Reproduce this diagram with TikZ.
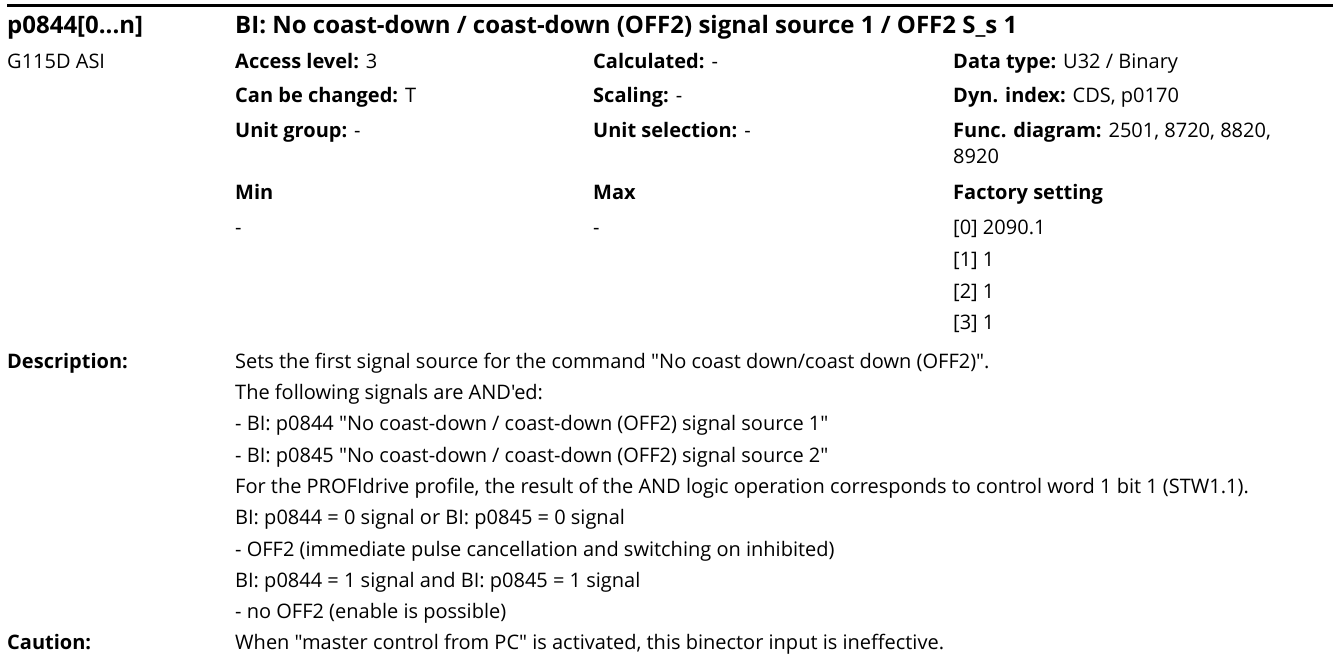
\documentclass[tikz,border=0pt]{standalone}
\usepackage{fontspec}
\setmainfont{Open Sans}[Ligatures=TeXOff]

\begin{document}
\fontsize{20bp}{24bp}\selectfont
\begin{tikzpicture}[x=1bp, y=-1bp,
        lbl/.style={anchor=base west, inner sep=0pt, font=\bfseries},
        txt/.style={anchor=base west, inner sep=0pt},
        hdr/.style={anchor=base west, inner sep=0pt, font=\fontsize{24bp}{28bp}\selectfont\bfseries}]
        \useasboundingbox (0,0) rectangle (1333,659);

        % Header rule and title line
        \draw[line width=3bp] (7,6) -- (1333,6);
        \node[hdr] (parnum) at (7,34) {p0844[0...n]};
        \node[hdr] (partitle) at (235,34) {BI: No coast-down / coast-down (OFF2) signal source 1 / OFF2 S\_s 1};

        % Attribute block
        \node[txt] (unit) at (7,69) {G115D ASI};
        \node[txt] (access) at (235,69) {\textbf{Access level:} 3};
        \node[txt] (calc) at (593,69) {\textbf{Calculated:} -};
        \node[txt] (dtype) at (953,69) {\textbf{Data type:} U32 / Binary};
        \node[txt] (change) at (235,103) {\textbf{Can be changed:} T};
        \node[txt] (scaling) at (593,103) {\textbf{Scaling:} -};
        \node[txt] (dynidx) at (953,103) {\textbf{Dyn. index:} CDS, p0170};
        \node[txt] (ugroup) at (235,137) {\textbf{Unit group:} -};
        \node[txt] (usel) at (593,137) {\textbf{Unit selection:} -};
        \node[txt] (funcdiag) at (953,137) {\textbf{Func. diagram:} 2501, 8720, 8820,};
        \node[txt] (funcdiagb) at (953,163) {8920};

        % Limits and factory setting
        \node[lbl] (minhd) at (235,199) {Min};
        \node[lbl] (maxhd) at (593,199) {Max};
        \node[lbl] (facthd) at (953,199) {Factory setting};
        \node[txt] (minval) at (235,234) {-};
        \node[txt] (maxval) at (593,234) {-};
        \node[txt] (fact0) at (953,234) {[0] 2090.1};
        \node[txt] (fact1) at (953,266) {[1] 1};
        \node[txt] (fact2) at (953,298) {[2] 1};
        \node[txt] (fact3) at (953,329) {[3] 1};

        % Description
        \node[lbl] (deschd) at (7,368) {Description:};
        \node[txt] (desc1) at (235,368) {Sets the first signal source for the command "No coast down/coast down (OFF2)".};
        \node[txt] (desc2) at (235,399) {The following signals are AND'ed:};
        \node[txt] (desc3) at (235,430) {- BI: p0844 "No coast-down / coast-down (OFF2) signal source 1"};
        \node[txt] (desc4) at (235,462) {- BI: p0845 "No coast-down / coast-down (OFF2) signal source 2"};
        \node[txt] (desc5) at (235,493) {For the PROFIdrive profile, the result of the AND logic operation corresponds to control word 1 bit 1 (STW1.1).};
        \node[txt] (desc6) at (235,524) {BI: p0844 = 0 signal or BI: p0845 = 0 signal};
        \node[txt] (desc7) at (235,556) {- OFF2 (immediate pulse cancellation and switching on inhibited)};
        \node[txt] (desc8) at (235,587) {BI: p0844 = 1 signal and BI: p0845 = 1 signal};
        \node[txt] (desc9) at (235,618) {- no OFF2 (enable is possible)};

        % Caution
        \node[lbl] (cauthd) at (7,649) {Caution:};
        \node[txt] (caut) at (235,649) {When "master control from PC" is activated, this binector input is ineffective.};
\end{tikzpicture}
\end{document}
